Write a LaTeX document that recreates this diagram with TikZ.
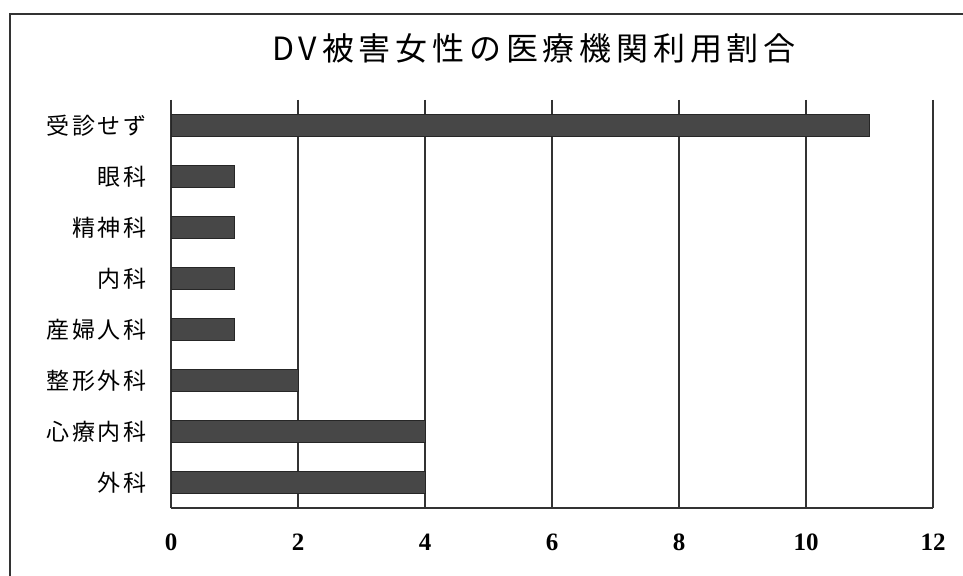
\documentclass[tikz,border=0pt]{standalone}
\usepackage{fontspec}
\newfontfamily\jpfont[LetterSpace=12]{Noto Sans CJK JP}
\newfontfamily\jptitle[LetterSpace=15]{Noto Sans CJK JP}
\newfontfamily\numfont{Liberation Serif}
\usetikzlibrary{positioning}
\tikzset{
bar/.style={
  fill=black!72,
  draw=black!85,
  line width=0.5pt
  },
grid/.style={draw=black!80, line width=0.9pt},
cat/.style={anchor=east, inner sep=0pt, font=\jpfont\fontsize{11.5}{12}\selectfont},
tick/.style={inner sep=0pt, font=\numfont\bfseries\fontsize{12.5}{14}\selectfont}
}

\begin{document}
\begin{tikzpicture}[x=0.5pt,y=-0.5pt]
\useasboundingbox (0,0) rectangle (963,576);
\fill[white] (0,0) rectangle (963,576);
% frame, cut at right and bottom
\draw[line width=1.1pt, black!80] (10,576) -- (10,14) -- (963,14);
\node[inner sep=0pt, font=\jptitle\fontsize{16}{18}\selectfont] (title) at (534,48) {DV被害女性の医療機関利用割合};
\begin{scope}[shift={(171,100)}, x=31.75pt, y=-25.5pt]
\foreach \v in {0,2,...,12} {
    \draw[grid] (\v,0) -- (\v,8);
    \node[tick] (t\v) at (\v,8.667) {\v};
}
\draw[grid] (0,8) -- (12,8);
\foreach \name/\val [count=\i from 0] in {受診せず/11, 眼科/1, 精神科/1, 内科/1, 産婦人科/1, 整形外科/2, 心療内科/4, 外科/4} {
    \fill[bar] (0,\i+0.284) rectangle (\val,\i+0.716);
    \node[cat] (c\i) at (-0.378,\i+0.5) {\name};
}
\end{scope}
\end{tikzpicture}
\end{document}
